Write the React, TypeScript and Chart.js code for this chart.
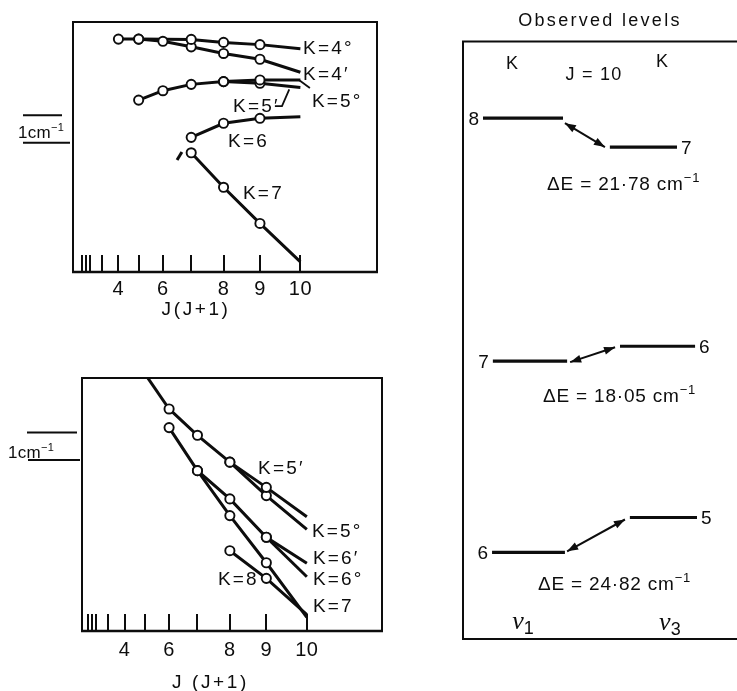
import React, { useEffect, useRef } from "react";
import { Chart, registerables } from "chart.js";

Chart.register(...registerables);

const INK = "#0d0d0d";
const SANS = "'Liberation Sans', Arial, Helvetica, sans-serif";
const SERIF = "'Liberation Serif', 'DejaVu Serif', serif";

// ---------- shared J(J+1) axis ----------
const J_TICK_VALUES = [2, 4, 6, 12, 20, 30, 42, 56, 72, 90, 110];
const J_TICK_LABELS = ["", "", "", "", "4", "", "6", "", "8", "9", "10"];
const J_LINE_END = 110; // curves are continued to J = 10 without an observed point

// ---------- top panel: x = J(J+1), y = energy (cm^-1, arbitrary origin) ----------
const TOP_K4o_X = [20, 30, 56, 72, 90, 110];
const TOP_K4o_Y = [8.44, 8.44, 8.43, 8.32, 8.24, 8.09];
const TOP_K4p_X = [30, 42, 56, 72, 90, 110];
const TOP_K4p_Y = [8.44, 8.36, 8.16, 7.92, 7.71, 7.24];
const TOP_K5o_X = [30, 42, 56, 72, 90, 110];
const TOP_K5o_Y = [6.23, 6.57, 6.8, 6.9, 6.96, 6.96];
const TOP_K5p_X = [72, 90, 110];
const TOP_K5p_Y = [6.9, 6.84, 6.69];
const TOP_K6_X = [56, 72, 90, 110];
const TOP_K6_Y = [4.88, 5.39, 5.57, 5.63];
const TOP_K6_DASH_X = [49, 51.4];
const TOP_K6_DASH_Y = [4.06, 4.35];
const TOP_K7_X = [56, 72, 90, 110];
const TOP_K7_Y = [4.32, 3.07, 1.76, 0.37];
const TOP_LABELS = ["K=4°", "K=4′", "K=5°", "K=5′", "K=6", "K=7"];
const TOP_LABEL_X = [111.3, 111.3, 115.7, 76.7, 74.2, 81.6];
const TOP_LABEL_Y = [8.15, 7.21, 6.23, 6.05, 4.78, 2.9];
const TOP_LEADER_X = [109.3, 114.7];
const TOP_LEADER_Y = [6.96, 6.67];
const TOP_BRACKET_X = [97.4, 100.9, 104.5];
const TOP_BRACKET_Y = [6.01, 6.01, 6.62];
const TOP_SCALEBAR_BASE = 4.68; // bar spans 1 cm^-1

// ---------- bottom panel ----------
const BOT_K5p_HEAD_X = [29, 42];
const BOT_K5p_HEAD_Y = [9.5, 8.1];
const BOT_K5p_X = [42, 56, 72, 90, 110];
const BOT_K5p_Y = [8.1, 7.14, 6.16, 5.24, 4.17];
const BOT_K5o_X = [72, 90, 110];
const BOT_K5o_Y = [6.16, 4.94, 3.71];
const BOT_K6p_X = [42, 56, 72, 90, 110];
const BOT_K6p_Y = [7.42, 5.85, 4.82, 3.42, 2.47];
const BOT_K6o_X = [90, 110];
const BOT_K6o_Y = [3.42, 1.98];
const BOT_K7_X = [56, 72, 90, 110];
const BOT_K7_Y = [5.85, 4.21, 2.49, 0.5];
const BOT_K8_X = [72, 90, 110];
const BOT_K8_Y = [2.93, 1.92, 0.6];
const BOT_LABELS = ["K=5′", "K=5°", "K=6′", "K=6°", "K=7", "K=8"];
const BOT_LABEL_X = [85.9, 112.5, 113, 113, 113, 66.1];
const BOT_LABEL_Y = [5.99, 3.69, 2.7, 1.93, 0.95, 1.93];
const BOT_SCALEBAR_BASE = 6.24;

// ---------- right panel: observed levels, J = 10 ----------
const LEVEL_K = ["8", "7", "7", "6", "6", "5"];
const LEVEL_MODE = ["v1", "v3", "v1", "v3", "v1", "v3"];
const LEVEL_X0 = [7.3, 53.6, 10.9, 57.3, 10.6, 60.9];
const LEVEL_X1 = [36.5, 78.1, 38.0, 84.7, 37.2, 85.4];
const LEVEL_Y = [52.3, 49.4, 27.9, 29.4, 8.7, 12.2];
const ARROW_X0 = [37.2, 39.1, 38.0];
const ARROW_Y0 = [51.8, 27.8, 8.8];
const ARROW_X1 = [51.8, 55.5, 59.1];
const ARROW_Y1 = [49.4, 29.3, 12.0];
const DELTA_E = ["21·78", "18·05", "24·82"];
const DELTA_E_X = [30.7, 29.2, 27.4];
const DELTA_E_Y = [45.8, 24.5, 5.6];

type Seg = { t: string; sup?: boolean; sub?: boolean; f?: string };

function rich(ctx: CanvasRenderingContext2D, segs: (Seg | string)[], x: number, yMid: number, size: number,
  align: "left" | "center" | "right" = "left", spacing = 0, family = SANS) {
  const list: Seg[] = segs.map((s) => (typeof s === "string" ? { t: s } : s));
  const small = Math.round(size * 0.66);
  const fontFor = (s: Seg) => (s.f ? s.f : `${s.sup || s.sub ? small : size}px ${family}`);
  ctx.save();
  (ctx as any).letterSpacing = `${spacing}px`;
  ctx.textAlign = "left";
  ctx.textBaseline = "alphabetic";
  const widths = list.map((s) => { ctx.font = fontFor(s); return ctx.measureText(s.t).width; });
  const total = widths.reduce((a, b) => a + b, 0);
  let cx = align === "left" ? x : align === "center" ? x - total / 2 : x - total;
  const base = yMid + size * 0.36;
  list.forEach((s, i) => {
    ctx.font = fontFor(s);
    const dy = s.sup ? -size * 0.42 : s.sub ? size * 0.3 : 0;
    ctx.fillText(s.t, cx, base + dy);
    cx += widths[i];
  });
  ctx.restore();
}

const pts = (xs: number[], ys: number[]) => xs.map((x, i) => ({ x, y: ys[i] }));

function lineDs(xs: number[], ys: number[], width = 3) {
  return { data: pts(xs, ys), showLine: true, borderColor: INK, borderWidth: width, pointRadius: 0, pointHoverRadius: 0, tension: 0, order: 2 };
}

function markDs(xs: number[], ys: number[]) {
  const keep = xs.map((_, i) => i).filter((i) => xs[i] !== J_LINE_END);
  return {
    data: keep.map((i) => ({ x: xs[i], y: ys[i] })), showLine: false, pointRadius: 4.6, pointHoverRadius: 4.6,
    pointBackgroundColor: "#ffffff", pointBorderColor: INK, pointBorderWidth: 1.9, order: 1,
  };
}

function series(xs: number[], ys: number[]) { return [lineDs(xs, ys), markDs(xs, ys)]; }

function polyline(ctx: CanvasRenderingContext2D, chart: any, xs: number[], ys: number[], w: number) {
  const sx = chart.scales.x; const sy = chart.scales.y;
  ctx.lineWidth = w;
  ctx.beginPath();
  xs.forEach((v, i) => {
    const px = sx.getPixelForValue(v); const py = sy.getPixelForValue(ys[i]);
    if (i === 0) ctx.moveTo(px, py); else ctx.lineTo(px, py);
  });
  ctx.stroke();
}

const TICK_LEN = 17;

function drawJTicks(chart: any) {
  const ctx: CanvasRenderingContext2D = chart.ctx;
  const a = chart.chartArea;
  const sx = chart.scales.x;
  ctx.save();
  ctx.fillStyle = INK;
  J_TICK_VALUES.forEach((v) => {
    const px = sx.getPixelForValue(v);
    ctx.fillRect(Math.round(px) - 1, a.bottom - TICK_LEN, 2, TICK_LEN);
  });
  ctx.restore();
}

function drawJLabels(chart: any, labelDy: number, titleDy: number, title: string, titleX: number) {
  const ctx: CanvasRenderingContext2D = chart.ctx;
  const a = chart.chartArea;
  const sx = chart.scales.x;
  J_TICK_VALUES.forEach((v, i) => {
    if (J_TICK_LABELS[i]) rich(ctx, [J_TICK_LABELS[i]], sx.getPixelForValue(v), a.bottom + labelDy, 20, "center", 0.5);
  });
  rich(ctx, [title], sx.getPixelForValue(titleX), a.bottom + titleDy, 19, "center", 2.6);
}

function drawFrame(chart: any) {
  const ctx: CanvasRenderingContext2D = chart.ctx;
  const a = chart.chartArea;
  ctx.lineWidth = 2;
  ctx.strokeRect(a.left, a.top, a.right - a.left, a.bottom - a.top);
  ctx.lineWidth = 2.6;
  ctx.beginPath();
  ctx.moveTo(a.left - 1, a.bottom);
  ctx.lineTo(a.right + 1, a.bottom);
  ctx.stroke();
}

function drawScaleBar(chart: any, base: number, upperLen: number[], lowerLen: number[], textX: number, textY: number) {
  const ctx: CanvasRenderingContext2D = chart.ctx;
  const a = chart.chartArea;
  const sy = chart.scales.y;
  const yLo = sy.getPixelForValue(base);
  const yHi = sy.getPixelForValue(base + 1);
  ctx.lineWidth = 2;
  ctx.beginPath();
  ctx.moveTo(a.left - upperLen[0], yHi); ctx.lineTo(a.left - upperLen[1], yHi);
  ctx.moveTo(a.left - lowerLen[0], yLo); ctx.lineTo(a.left - lowerLen[1], yLo);
  ctx.stroke();
  rich(ctx, ["1cm", { t: "−1", sup: true }], a.left - textX, sy.getPixelForValue(textY), 17, "left", 0.3);
}

function drawLabels(chart: any, labels: string[], lx: number[], ly: number[]) {
  const ctx: CanvasRenderingContext2D = chart.ctx;
  const sx = chart.scales.x; const sy = chart.scales.y;
  labels.forEach((t, i) => rich(ctx, [t], sx.getPixelForValue(lx[i]), sy.getPixelForValue(ly[i]), 19, "left", 2.2));
}

const topDecor = {
  id: "topDecor",
  afterDraw(chart: any) {
    const ctx: CanvasRenderingContext2D = chart.ctx;
    ctx.save();
    ctx.strokeStyle = INK; ctx.fillStyle = INK;
    drawFrame(chart);
    drawJLabels(chart, 16, 36, "J(J+1)", 58.4);
    drawLabels(chart, TOP_LABELS, TOP_LABEL_X, TOP_LABEL_Y);
    polyline(ctx, chart, TOP_LEADER_X, TOP_LEADER_Y, 1.8);
    polyline(ctx, chart, TOP_BRACKET_X, TOP_BRACKET_Y, 1.8);
    drawScaleBar(chart, TOP_SCALEBAR_BASE, [50, 11], [50, 3], 55, TOP_SCALEBAR_BASE + 0.38);
    drawJTicks(chart);
    ctx.restore();
  },
};

const botDecor = {
  id: "botDecor",
  afterDraw(chart: any) {
    const ctx: CanvasRenderingContext2D = chart.ctx;
    ctx.save();
    ctx.strokeStyle = INK; ctx.fillStyle = INK;
    drawFrame(chart);
    drawJLabels(chart, 18, 50, "J (J+1)", 62.4);
    drawLabels(chart, BOT_LABELS, BOT_LABEL_X, BOT_LABEL_Y);
    drawScaleBar(chart, BOT_SCALEBAR_BASE, [55, 5], [54, 2], 74, BOT_SCALEBAR_BASE + 0.3);
    drawJTicks(chart);
    ctx.restore();
  },
};

function arrowHead(ctx: CanvasRenderingContext2D, tx: number, ty: number, fx: number, fy: number) {
  const ang = Math.atan2(ty - fy, tx - fx);
  const len = 11; const half = 4;
  ctx.beginPath();
  ctx.moveTo(tx, ty);
  ctx.lineTo(tx - len * Math.cos(ang) + half * Math.sin(ang), ty - len * Math.sin(ang) - half * Math.cos(ang));
  ctx.lineTo(tx - len * Math.cos(ang) - half * Math.sin(ang), ty - len * Math.sin(ang) + half * Math.cos(ang));
  ctx.closePath();
  ctx.fill();
}

function nu(ctx: CanvasRenderingContext2D, sub: string, x: number, yMid: number) {
  rich(ctx, [{ t: "ν", f: `italic 26px ${SERIF}` }, { t: sub, sub: true, f: `18px ${SANS}` }], x, yMid, 18, "center");
}

const rightDecor = {
  id: "rightDecor",
  afterDraw(chart: any) {
    const ctx: CanvasRenderingContext2D = chart.ctx;
    const a = chart.chartArea;
    const sx = chart.scales.x; const sy = chart.scales.y;
    const X = (v: number) => sx.getPixelForValue(v);
    const Y = (v: number) => sy.getPixelForValue(v);
    ctx.save();
    ctx.strokeStyle = INK; ctx.fillStyle = INK;
    // frame, open on the right
    ctx.lineWidth = 2;
    ctx.beginPath();
    ctx.moveTo(a.right, a.top); ctx.lineTo(a.left, a.top); ctx.lineTo(a.left, a.bottom); ctx.lineTo(a.right, a.bottom);
    ctx.stroke();
    rich(ctx, ["Observed levels"], X(50), Y(62.2), 18, "center", 2.3);
    rich(ctx, ["K"], X(17.9), Y(57.9), 18, "center");
    rich(ctx, ["K"], X(72.6), Y(58.1), 18, "center");
    rich(ctx, ["J = 10"], X(47.8), Y(56.8), 18, "center", 1.2);
    LEVEL_K.forEach((k, i) => {
      if (LEVEL_MODE[i] === "v1") rich(ctx, [k], X(LEVEL_X0[i]) - 4, Y(LEVEL_Y[i]), 19, "right");
      else rich(ctx, [k], X(LEVEL_X1[i]) + 4, Y(LEVEL_Y[i]), 19, "left");
    });
    ARROW_X0.forEach((_, i) => {
      const x0 = X(ARROW_X0[i]); const y0 = Y(ARROW_Y0[i]);
      const x1 = X(ARROW_X1[i]); const y1 = Y(ARROW_Y1[i]);
      ctx.lineWidth = 2;
      ctx.beginPath(); ctx.moveTo(x0, y0); ctx.lineTo(x1, y1); ctx.stroke();
      arrowHead(ctx, x0, y0, x1, y1);
      arrowHead(ctx, x1, y1, x0, y0);
    });
    DELTA_E.forEach((d, i) => {
      rich(ctx, ["ΔE = " + d + " cm", { t: "−1", sup: true }], X(DELTA_E_X[i]), Y(DELTA_E_Y[i]), 19, "left", 0.8);
    });
    nu(ctx, "1", X(21.9), Y(1.7));
    nu(ctx, "3", X(75.5), Y(1.6));
    ctx.restore();
  },
};

function baseOptions(xmin: number, xmax: number, ymin: number, ymax: number, padding: any) {
  return {
    animation: false as const, responsive: false, maintainAspectRatio: false, events: [] as any[],
    layout: { padding },
    plugins: { legend: { display: false }, tooltip: { enabled: false }, title: { display: false } },
    scales: {
      x: { type: "linear" as const, min: xmin, max: xmax, display: false },
      y: { type: "linear" as const, min: ymin, max: ymax, display: false },
    },
  };
}

export default function App() {
  const topRef = useRef<HTMLCanvasElement>(null);
  const botRef = useRef<HTMLCanvasElement>(null);
  const rightRef = useRef<HTMLCanvasElement>(null);

  useEffect(() => {
    const top = new Chart(topRef.current as HTMLCanvasElement, {
      type: "scatter",
      data: {
        datasets: [
          ...series(TOP_K4o_X, TOP_K4o_Y), ...series(TOP_K4p_X, TOP_K4p_Y),
          ...series(TOP_K5o_X, TOP_K5o_Y), ...series(TOP_K5p_X, TOP_K5p_Y),
          ...series(TOP_K6_X, TOP_K6_Y), lineDs(TOP_K6_DASH_X, TOP_K6_DASH_Y, 3),
          ...series(TOP_K7_X, TOP_K7_Y),
        ] as any,
      },
      options: baseOptions(-2.47, 147.9, 0, 9.06, { left: 73, top: 22, right: 23, bottom: 53 }) as any,
      plugins: [topDecor],
    });
    const bot = new Chart(botRef.current as HTMLCanvasElement, {
      type: "scatter",
      data: {
        datasets: [
          lineDs(BOT_K5p_HEAD_X, BOT_K5p_HEAD_Y), ...series(BOT_K5p_X, BOT_K5p_Y),
          ...series(BOT_K5o_X, BOT_K5o_Y), ...series(BOT_K6p_X, BOT_K6p_Y),
          ...series(BOT_K6o_X, BOT_K6o_Y), ...series(BOT_K7_X, BOT_K7_Y),
          ...series(BOT_K8_X, BOT_K8_Y),
        ] as any,
      },
      options: baseOptions(-0.99, 147.1, 0, 9.23, { left: 82, top: 48, right: 18, bottom: 60 }) as any,
      plugins: [botDecor],
    });
    const right = new Chart(rightRef.current as HTMLCanvasElement, {
      type: "scatter",
      data: { datasets: LEVEL_Y.map((y, i) => lineDs([LEVEL_X0[i], LEVEL_X1[i]], [y, y], 3.2)) as any },
      options: baseOptions(0, 100, 0, 60, { left: 23, top: 41.5, right: 0, bottom: 52 }) as any,
      plugins: [rightDecor],
    });
    return () => { top.destroy(); bot.destroy(); right.destroy(); };
  }, []);

  return (
    <div style={{ position: "absolute", left: 0, top: 0, width: 737, height: 691, background: "#ffffff", overflow: "hidden" }}>
      <canvas ref={topRef} width={400} height={325} style={{ position: "absolute", left: 0, top: 0, width: 400, height: 325 }} />
      <canvas ref={botRef} width={400} height={361} style={{ position: "absolute", left: 0, top: 330, width: 400, height: 361 }} />
      <canvas ref={rightRef} width={297} height={691} style={{ position: "absolute", left: 440, top: 0, width: 297, height: 691 }} />
    </div>
  );
}
